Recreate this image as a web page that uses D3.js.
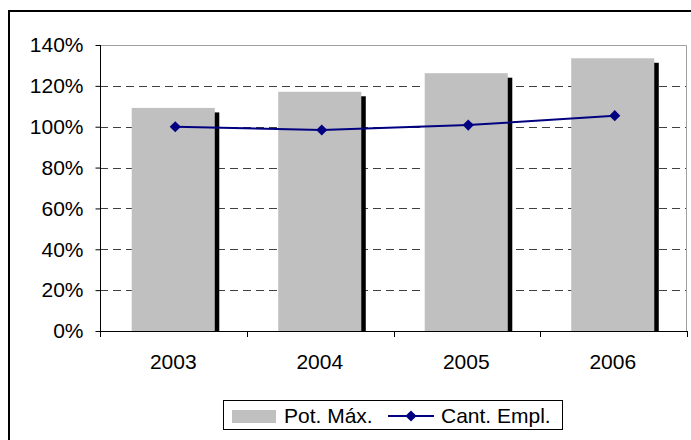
<!DOCTYPE html>
<html>
<head>
<meta charset="utf-8">
<script src="https://cdn.jsdelivr.net/npm/d3@7"></script>
<style>
  html, body { margin: 0; padding: 0; background: #fff; }
  svg { display: block; font-family: "Liberation Sans", Arial, sans-serif; }
</style>
</head>
<body>
<svg id="chart" width="691" height="440"></svg>
<script>
// Years on the category axis
const years = ["2003", "2004", "2005", "2006"];
// Maximum capacity index (bars), percent
const potMax = [109.2, 117.1, 126.2, 133.5];
// Employed quantity index (line), percent
const cantEmpl = [100.0, 98.4, 100.8, 105.4];
// Value-axis ticks, percent
const yTicks = [0, 20, 40, 60, 80, 100, 120, 140];
const legendLabels = ["Pot. Máx.", "Cant. Empl."];

const FONT = 21;
const svg = d3.select("#chart");
const plot = { left: 100, right: 687, top: 45, bottom: 331 };

// Outer chart border (runs past the right and bottom edges)
svg.append("rect")
  .attr("x", 9).attr("y", 11)
  .attr("width", 700).attr("height", 450)
  .attr("fill", "#fff").attr("stroke", "#000").attr("stroke-width", 2);

const x = d3.scaleBand()
  .domain(years)
  .range([plot.left, plot.right - 1])
  .paddingInner(0.433)
  .paddingOuter(0.2165);

const y = d3.scaleLinear().domain([0, 140]).range([plot.bottom, plot.top]);

// Dashed gridlines
svg.append("g")
  .selectAll("line")
  .data(yTicks.filter(t => t > 0 && t < 140))
  .join("line")
  .attr("x1", plot.left).attr("x2", plot.right)
  .attr("y1", d => Math.round(y(d)) + 0.5).attr("y2", d => Math.round(y(d)) + 0.5)
  .attr("stroke", "#404040").attr("stroke-width", 1)
  .attr("stroke-dasharray", "8,5");

// Plot-area frame: top and right edges
svg.append("path")
  .attr("d", `M${plot.left},${plot.top + 0.5}H${plot.right - 0.5}V${plot.bottom}`)
  .attr("fill", "none").attr("stroke", "#a0a0a0").attr("stroke-width", 1);

// Clip shadows to the plot area
svg.append("clipPath").attr("id", "plotClip")
  .append("rect")
  .attr("x", plot.left).attr("y", plot.top)
  .attr("width", plot.right - plot.left).attr("height", plot.bottom - plot.top);

const bars = svg.append("g").attr("clip-path", "url(#plotClip)");
const shadowOff = 4.5;

// Bar shadows
bars.selectAll("rect.shadow")
  .data(years)
  .join("rect")
  .attr("class", "shadow")
  .attr("x", (d) => x(d) + shadowOff)
  .attr("y", (d, i) => y(potMax[i]) + shadowOff)
  .attr("width", x.bandwidth())
  .attr("height", (d, i) => y(0) - y(potMax[i]))
  .attr("fill", "#000");

// Bars
bars.selectAll("rect.bar")
  .data(years)
  .join("rect")
  .attr("class", "bar")
  .attr("x", d => x(d))
  .attr("y", (d, i) => y(potMax[i]))
  .attr("width", x.bandwidth())
  .attr("height", (d, i) => y(0) - y(potMax[i]))
  .attr("fill", "#c0c0c0");

// Value axis
const yAxis = d3.axisLeft(y)
  .tickValues(yTicks)
  .tickFormat(d => d + "%")
  .tickSize(5)
  .tickPadding(12);
const gy = svg.append("g")
  .attr("transform", `translate(${plot.left + 0.5},0)`)
  .call(yAxis);
gy.select(".domain").attr("stroke", "#000").attr("d", `M0,${plot.top}V${plot.bottom}`);
gy.selectAll(".tick line").attr("stroke", "#000");
gy.selectAll(".tick text")
  .attr("font-size", FONT).attr("fill", "#000")
  .attr("font-family", "Liberation Sans, Arial, sans-serif");

// Category axis: baseline, boundary ticks and year labels
svg.append("line")
  .attr("x1", plot.left).attr("x2", plot.right)
  .attr("y1", plot.bottom + 0.5).attr("y2", plot.bottom + 0.5)
  .attr("stroke", "#000");
svg.append("g").selectAll("line")
  .data(d3.range(years.length + 1))
  .join("line")
  .attr("x1", i => Math.round(plot.left + i * (plot.right - plot.left) / years.length) + 0.5)
  .attr("x2", i => Math.round(plot.left + i * (plot.right - plot.left) / years.length) + 0.5)
  .attr("y1", plot.bottom).attr("y2", plot.bottom + 6)
  .attr("stroke", "#000");
svg.append("g").selectAll("text")
  .data(years)
  .join("text")
  .attr("x", d => x(d) + x.bandwidth() / 2)
  .attr("y", 369)
  .attr("text-anchor", "middle")
  .attr("font-size", FONT)
  .attr("fill", "#000")
  .text(d => d);

// Line series
const cx = d => x(d) + x.bandwidth() / 2 + 2;
const line = d3.line().x(d => cx(d[0])).y(d => y(d[1]));
const pts = years.map((d, i) => [d, cantEmpl[i]]);
svg.append("path")
  .datum(pts)
  .attr("d", line)
  .attr("fill", "none")
  .attr("stroke", "#000080")
  .attr("stroke-width", 2);
const diamond = d3.symbol(d3.symbolSquare, 62);
svg.append("g").selectAll("path")
  .data(pts)
  .join("path")
  .attr("d", diamond)
  .attr("transform", d => `translate(${cx(d[0])},${y(d[1])}) rotate(45)`)
  .attr("fill", "#000080");

// Legend
const lg = svg.append("g");
lg.append("rect")
  .attr("x", 223.5).attr("y", 400.5)
  .attr("width", 339).attr("height", 29)
  .attr("fill", "#fff").attr("stroke", "#000");
lg.append("rect")
  .attr("x", 232).attr("y", 410)
  .attr("width", 44).attr("height", 13)
  .attr("fill", "#c0c0c0");
lg.append("text")
  .attr("x", 284).attr("y", 423)
  .attr("font-size", FONT).attr("fill", "#000")
  .text(legendLabels[0]);
lg.append("line")
  .attr("x1", 388).attr("x2", 434)
  .attr("y1", 416).attr("y2", 416)
  .attr("stroke", "#000080").attr("stroke-width", 2);
lg.append("path")
  .attr("d", diamond)
  .attr("transform", "translate(411,416) rotate(45)")
  .attr("fill", "#000080");
lg.append("text")
  .attr("x", 441).attr("y", 423)
  .attr("font-size", FONT).attr("fill", "#000")
  .text(legendLabels[1]);
</script>
</body>
</html>
